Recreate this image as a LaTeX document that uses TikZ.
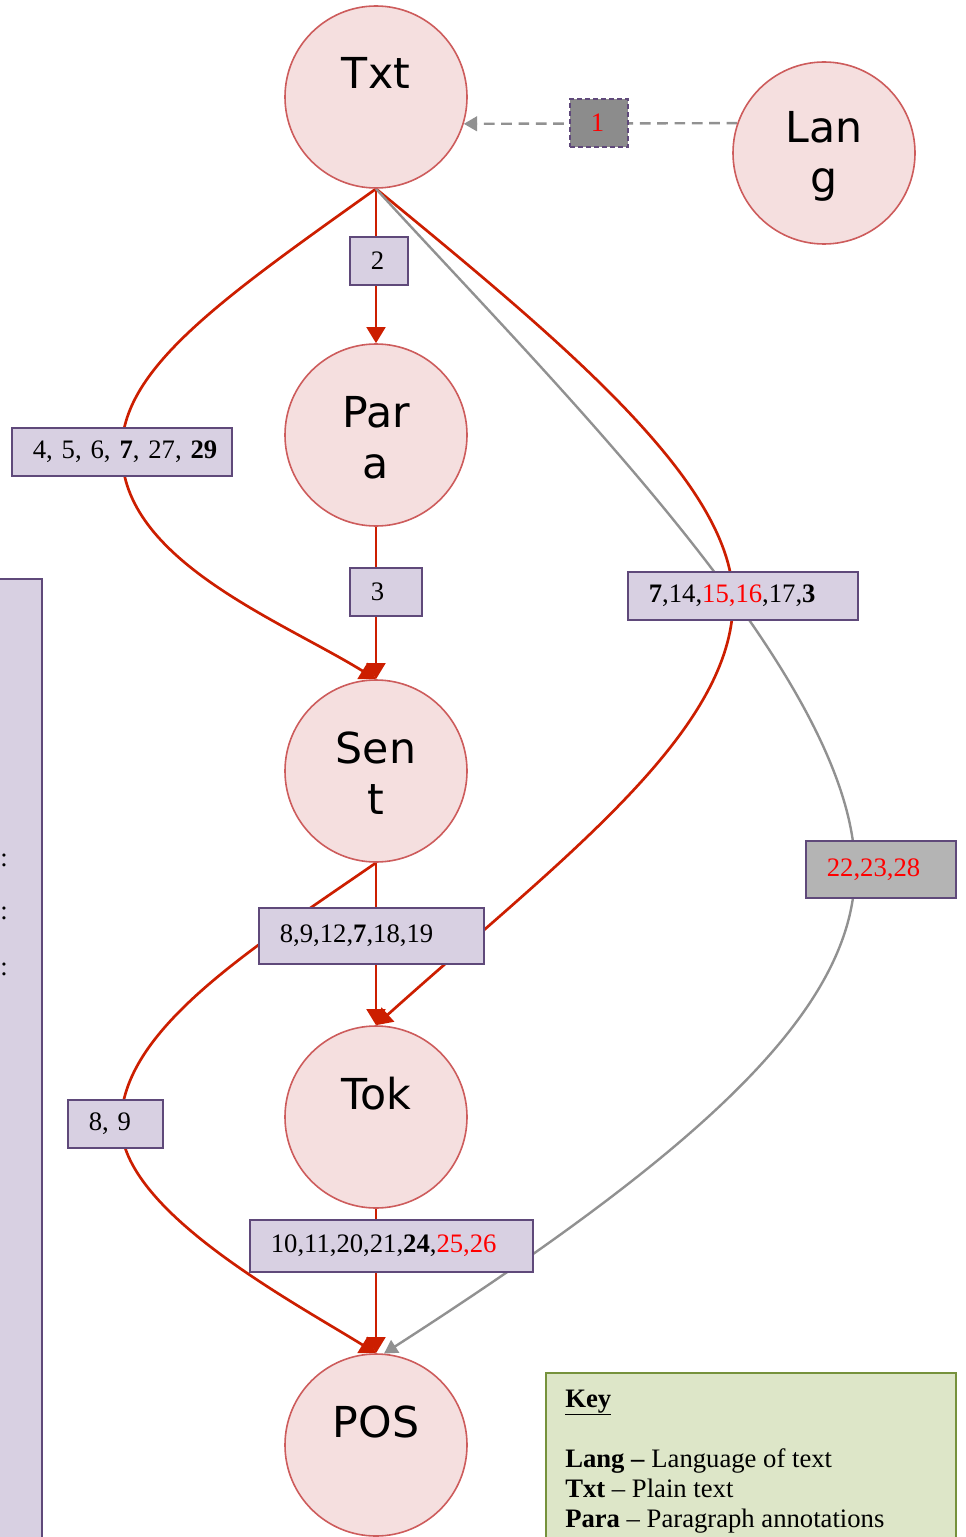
\documentclass[tikz,border=0pt]{standalone}
\usepackage{fontspec}
\setmainfont{Liberation Serif}
\newfontfamily\entfont{DejaVu Sans}
\usetikzlibrary{arrows.meta,backgrounds}

\definecolor{entfill}{RGB}{245,223,223}
\definecolor{entline}{RGB}{205,92,92}
\definecolor{boxfill}{RGB}{216,208,226}
\definecolor{boxline}{RGB}{95,73,122}
\definecolor{darkbox}{RGB}{140,140,140}
\definecolor{greybox}{RGB}{180,180,180}
\definecolor{linkred}{RGB}{204,30,0}
\definecolor{linkgray}{RGB}{145,145,145}
\definecolor{keyfill}{RGB}{221,230,200}
\definecolor{keyline}{RGB}{118,146,60}
\definecolor{numred}{RGB}{255,0,0}

\tikzset{
  ent/.style={circle, draw=entline, fill=entfill, line width=1.2pt,
    minimum size=136.5pt, inner sep=0pt},
  entname/.style={font=\entfont\fontsize{32}{38}\selectfont, anchor=base,
    align=center, inner sep=0pt},
  numbox/.style={draw=boxline, fill=boxfill, line width=1.3pt, text width=#1,
    align=left, inner xsep=15.75pt, inner ysep=0pt, minimum height=36pt,
    anchor=west, font=\fontsize{20}{24}\selectfont},
  redlink/.style={draw=linkred, line width=2pt,
    -{Triangle[length=12pt,width=14pt]}},
  graylink/.style={draw=linkgray, line width=1.8pt,
    -{Triangle[length=10pt,width=11pt]}},
  keyitem/.style={anchor=base west, inner sep=0pt,
    font=\fontsize{20}{24}\selectfont},
}

\begin{document}
\begin{tikzpicture}[x=0.75pt,y=-0.75pt]
  \useasboundingbox (0,0) rectangle (965,1537);

  % side panel and key
  \node[draw=boxline, fill=boxfill, line width=1.3pt, anchor=north east,
        minimum width=45pt, minimum height=750pt] (side) at (43,578) {};
  \node[keyitem, anchor=base] (side-m1) at (4,866) {:};
  \node[keyitem, anchor=base] (side-m2) at (4,919) {:};
  \node[keyitem, anchor=base] (side-m3) at (4,975) {:};
  \node[draw=keyline, fill=keyfill, line width=1.4pt, anchor=north west,
        minimum width=307.5pt, minimum height=141pt] (key) at (545,1372) {};
  \node[keyitem] (key-title) at (565,1407) {\underline{\textbf{Key}}};
  \node[keyitem] (key-lang) at (565,1467) {\textbf{Lang –} Language of text};
  \node[keyitem] (key-txt) at (565,1497) {\textbf{Txt} – Plain text};
  \node[keyitem] (key-para) at (565,1527) {\textbf{Para} – Paragraph annotations};

  % annotation layers
  \node[ent] (txt) at (376,97) {};
  \node[entname] (txt-name) at (376,89) {Txt};
  \node[ent] (lang) at (824,153) {};
  \node[entname] (lang-name) at (824,193) {Lan\\g};
  \node[ent] (para) at (376,435) {};
  \node[entname] (para-name) at (376,478) {Par\\a};
  \node[ent] (sent) at (376,771) {};
  \node[entname] (sent-name) at (376,814) {Sen\\t};
  \node[ent] (tok) at (376,1117) {};
  \node[entname] (tok-name) at (376,1109) {Tok};
  \node[ent] (pos) at (376,1445) {};
  \node[entname] (pos-name) at (376,1437) {POS};

  % numbered boxes
  \node[numbox=12pt, fill=darkbox, dash pattern=on 4pt off 2pt] (n1) at (569,123)
    {\textcolor{numred}{1}};
  \node[numbox=12pt] (n2) at (349,261) {2};
  \node[numbox=133.5pt] (n4) at (11,452)
    {\mbox{4, 5, 6, \textbf{7}, 27, \textbf{29}}};
  \node[numbox=22.5pt] (n3) at (349,592) {3};
  \node[numbox=141pt] (n7) at (627,596)
    {\textbf{7},14,\textcolor{numred}{15,16},17,\textbf{3}};
  \node[numbox=81pt, fill=greybox, minimum height=42.75pt] (n22) at (805,869.5)
    {\textcolor{numred}{22,23,28}};
  \node[numbox=137.25pt, minimum height=42pt] (n8) at (258,936)
    {8,9,12,\textbf{7},18,19};
  \node[numbox=39.75pt] (n89) at (67,1124) {8, 9};
  \node[numbox=180.75pt, minimum height=39pt] (n10) at (249,1246)
    {10,11,20,21,\textbf{24},\textcolor{numred}{25,26}};

  % links
  \begin{scope}[on background layer]
    \draw[graylink, dash pattern=on 8pt off 5pt] (lang.161) -- (txt.-17);
    \draw[redlink] (txt.south) -- (para.north);
    \draw[redlink] (para.south) -- (sent.north);
    \draw[redlink] (sent.south) -- (tok.north);
    \draw[redlink] (tok.south) -- (pos.north);
    \draw[redlink] (txt.south) .. controls (220,300) and (120,370) .. (n4.center)
      .. controls (122,560) and (280,620) .. (sent.north);
    \draw[redlink] (txt.south) .. controls (560,340) and (730,480) .. (733,596)
      .. controls (737,730) and (560,860) .. (tok.north);
    \draw[graylink] (txt.south) .. controls (560,390) and (855,680) .. (855,870)
      .. controls (855,1010) and (700,1150) .. (pos.85);
    \draw[redlink] (sent.south) .. controls (250,950) and (121,1030) .. (121,1124)
      .. controls (121,1210) and (290,1300) .. (pos.north);
  \end{scope}
\end{tikzpicture}
\end{document}
